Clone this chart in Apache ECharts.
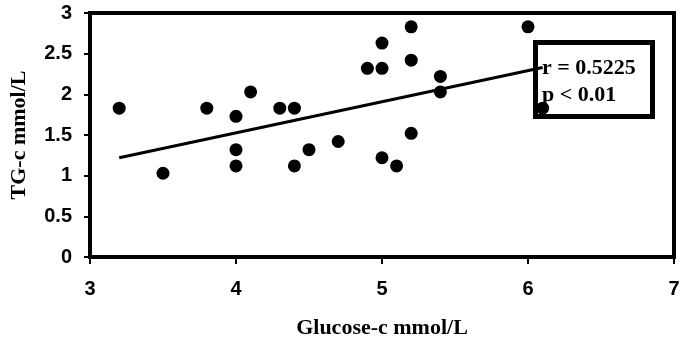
<!DOCTYPE html>
<html>
<head>
<meta charset="utf-8">
<style>html,body{margin:0;padding:0;background:#fff;}#c{width:694px;height:344px;}</style>
<script src="https://cdn.jsdelivr.net/npm/echarts@6/dist/echarts.min.js"></script>
</head>
<body>
<div id="c"></div>
<script>
var glucose = [3.2, 3.5, 3.8, 4.0, 4.0, 4.0, 4.1, 4.3, 4.4, 4.4, 4.5, 4.7, 4.9, 5.0, 5.0, 5.0, 5.1, 5.2, 5.2, 5.2, 5.4, 5.4, 6.0, 6.1];
var tg      = [1.83, 1.03, 1.83, 1.73, 1.32, 1.12, 2.03, 1.83, 1.83, 1.12, 1.32, 1.42, 2.32, 2.32, 2.63, 1.22, 1.12, 2.83, 2.42, 1.52, 2.22, 2.03, 2.83, 1.83];
var trendX = [3.2, 6.1];
var trendY = [1.22, 2.33];
var annotation = ['r = 0.5225', 'p < 0.01'];
var xTitle = 'Glucose-c mmol/L';
var yTitle = 'TG-c mmol/L';

var points = glucose.map(function (g, i) { return [g, tg[i]]; });
var trend = trendX.map(function (x, i) { return [x, trendY[i]]; });

var chart = echarts.init(document.getElementById('c'), null, {renderer: 'canvas'});
chart.setOption({
  animation: false,
  backgroundColor: '#fff',
  grid: {left: 90, right: 20, top: 13, bottom: 86, show: true, borderColor: '#000', borderWidth: 4, backgroundColor: 'transparent'},
  xAxis: {
    type: 'value', min: 3, max: 7, interval: 1,
    name: xTitle, nameLocation: 'middle', nameGap: 60,
    nameTextStyle: {fontFamily: 'Liberation Serif', fontWeight: 'bold', fontSize: 22, color: '#000'},
    axisLine: {show: true, lineStyle: {color: '#000', width: 4}},
    axisTick: {show: true, length: 7, lineStyle: {color: '#000', width: 2}},
    axisLabel: {fontFamily: 'Liberation Sans', fontWeight: 'bold', fontSize: 20, color: '#000', margin: 22},
    splitLine: {show: false}
  },
  yAxis: {
    type: 'value', min: 0, max: 3, interval: 0.5,
    name: yTitle, nameLocation: 'middle', nameGap: 60, nameRotate: 90,
    nameTextStyle: {fontFamily: 'Liberation Serif', fontWeight: 'bold', fontSize: 22, color: '#000'},
    axisLine: {show: true, lineStyle: {color: '#000', width: 4}},
    axisTick: {show: true, length: 6, lineStyle: {color: '#000', width: 2}},
    axisLabel: {fontFamily: 'Liberation Sans', fontWeight: 'bold', fontSize: 20, color: '#000', margin: 18},
    splitLine: {show: false}
  },
  series: [
    {type: 'scatter', data: points, symbol: 'circle', symbolSize: 13, itemStyle: {color: '#000', opacity: 1}, z: 3},
    {type: 'line', data: trend, showSymbol: false, symbol: 'none', lineStyle: {color: '#000', width: 3}, z: 2}
  ],
  graphic: [
    {type: 'rect', shape: {x: 535.5, y: 42.5, width: 117, height: 74}, style: {fill: '#fff', stroke: '#000', lineWidth: 5}, z: 1},
    {type: 'text', x: 542, y: 68, style: {text: annotation[0], font: 'bold 22px "Liberation Serif"', fill: '#000', verticalAlign: 'middle'}, z: 10},
    {type: 'text', x: 542, y: 95, style: {text: annotation[1], font: 'bold 22px "Liberation Serif"', fill: '#000', verticalAlign: 'middle'}, z: 10}
  ]
});
</script>
</body>
</html>
